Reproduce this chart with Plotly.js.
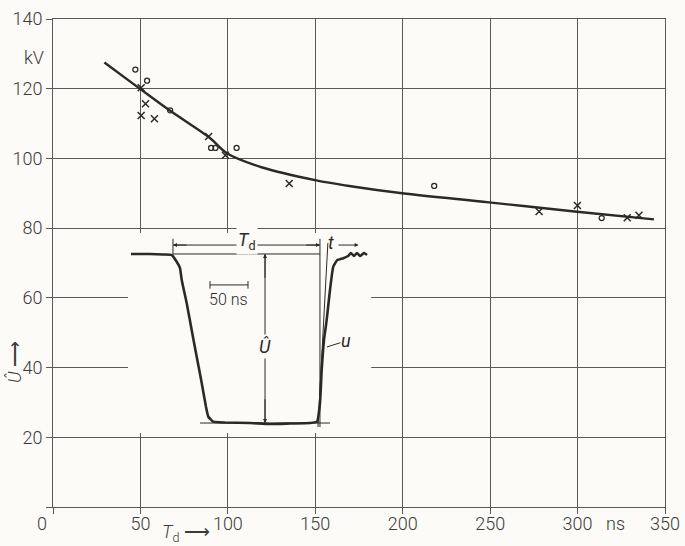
<!DOCTYPE html>
<html>
<head>
<meta charset="utf-8">
<script src="https://cdn.plot.ly/plotly-3.0.1.min.js"></script>
<style>html,body{margin:0;padding:0;background:#fcfbf7;}</style>
</head>
<body>
<div id="chart" style="width:685px;height:546px;"></div>
<script>
// Main chart: fitted curve of breakdown voltage Û vs. pulse duration T_d
var curveX = [29.4, 49.4, 66.6, 89.4, 99.7, 119.7, 150.6, 169.4, 199.7, 249.4, 299.7, 343.7];
var curveY = [127.5, 120.1, 113.8, 106.0, 101.4, 97.4, 93.7, 92.1, 90.0, 87.4, 84.7, 82.5];
// measured points, open circles
var circlesX = [47.1, 53.8, 67.0, 90.4, 92.9, 105.0, 218.0, 313.8];
var circlesY = [125.5, 122.3, 113.8, 103.0, 103.0, 103.0, 92.1, 82.9];
// measured points, crosses
var crossesX = [50.4, 52.9, 50.4, 58.0, 89.0, 98.6, 135.1, 278.0, 299.9, 328.4, 335.1];
var crossesY = [120.3, 115.7, 112.3, 111.4, 106.3, 100.9, 92.8, 84.8, 86.5, 83.0, 83.7];
// axis ticks
var xTickVals = [0, 50, 100, 150, 200, 250, 300, 350];
var xTickText = ['', '50', '100', '150', '200', '250', '300', '350'];
var yTickVals = [0, 20, 40, 60, 80, 100, 120, 140];
var yTickText = ['', '20', '40', '60', '80', '100', '120', '140'];
// Inset oscillogram: time in ns, voltage relative to Û
var waveT = [3.9, 28.9, 46.1, 57.5, 64.1, 68.4, 70.7, 77.2, 83.8, 90.4, 97.0, 102.6, 105.7, 112.2, 127.6, 160.5, 186.8, 213.2, 239.5, 248.7, 252.6, 254.9, 257.9, 261.4, 265.8, 270.1, 275.4, 283.3, 289.5, 293.4, 297.4, 301.3, 305.3, 310.5, 314.5];
var waveU = [1.000, 1.000, 0.997, 0.994, 0.954, 0.917, 0.846, 0.710, 0.550, 0.392, 0.237, 0.096, 0.037, 0.008, 0.003, 0.000, -0.006, -0.003, 0.000, 0.008, 0.117, 0.314, 0.491, 0.609, 0.787, 0.925, 0.964, 0.975, 0.988, 1.006, 0.988, 1.006, 0.988, 1.006, 0.994];
// inset construction lines (ns, relative u)
var tdStart = 59.2, tdEnd = 252.6;       // T_d markers
var tangentT = [250.0, 263.0], tangentU = [-0.024, 1.065];
var scaleBarT = [107.9, 157.9];          // 50 ns scale bar
var uHatT = 180.3;                       // Û dimension line

var ink = '#2a2a2a';
var grid = '#5a5a55';
var fnt = {family: 'Roboto, "Liberation Sans", sans-serif', size: 18, color: '#3a3a3a', weight: 300};

var traces = [
  {x: curveX, y: curveY, mode: 'lines', line: {color: ink, width: 2.4, shape: 'spline', smoothing: 1}, hoverinfo: 'skip'},
  {x: circlesX, y: circlesY, mode: 'markers', marker: {symbol: 'circle-open', size: 5, color: ink, line: {width: 1.3, color: ink}}},
  {x: crossesX, y: crossesY, mode: 'markers', marker: {symbol: 'x-thin-open', size: 7, color: ink, line: {width: 1.5, color: ink}}},
  {x: waveT, y: waveU, xaxis: 'x2', yaxis: 'y2', mode: 'lines', line: {color: ink, width: 2.6, shape: 'spline', smoothing: 0.4}},
  {x: tangentT, y: tangentU, xaxis: 'x2', yaxis: 'y2', mode: 'lines', line: {color: ink, width: 1}}
];

function px2px(px) { return (px - 53) / 612; }
function py2py(py) { return (507 - py) / 488; }

var shapes = [
  // white panel of inset
  {type: 'rect', xref: 'x2', yref: 'y2', x0: 3.9, x1: 314.5, y0: -0.05, y1: 1.124, fillcolor: '#fcfbf7', line: {width: 0}, layer: 'below'},
  // top reference line
  {type: 'line', xref: 'x2', yref: 'y2', x0: tdStart, x1: tdEnd, y0: 1.0, y1: 1.0, line: {color: ink, width: 1}},
  // bottom reference line
  {type: 'line', xref: 'x2', yref: 'y2', x0: 94.7, x1: 265.8, y0: 0, y1: 0, line: {color: ink, width: 1}},
  // T_d left marker
  {type: 'line', xref: 'x2', yref: 'y2', x0: tdStart, x1: tdStart, y0: 1.0, y1: 1.09, line: {color: ink, width: 1}},
  // T_d right marker (long)
  {type: 'line', xref: 'x2', yref: 'y2', x0: tdEnd, x1: tdEnd, y0: -0.024, y1: 1.09, line: {color: ink, width: 1}},
  // T_d dimension line
  {type: 'line', xref: 'x2', yref: 'y2', x0: tdStart, x1: tdEnd, y0: 1.053, y1: 1.053, line: {color: ink, width: 1}},
  // 50 ns scale bar
  {type: 'line', xref: 'x2', yref: 'y2', x0: scaleBarT[0], x1: scaleBarT[1], y0: 0.817, y1: 0.817, line: {color: ink, width: 1}},
  {type: 'line', xref: 'x2', yref: 'y2', x0: scaleBarT[0], x1: scaleBarT[0], y0: 0.795, y1: 0.84, line: {color: ink, width: 1}},
  {type: 'line', xref: 'x2', yref: 'y2', x0: scaleBarT[1], x1: scaleBarT[1], y0: 0.795, y1: 0.84, line: {color: ink, width: 1}},
  // Û dimension line
  {type: 'line', xref: 'x2', yref: 'y2', x0: uHatT, x1: uHatT, y0: 0, y1: 1.0, line: {color: ink, width: 1}},
  // leader for u
  {type: 'line', xref: 'x2', yref: 'y2', x0: 261.8, x1: 279.5, y0: 0.45, y1: 0.475, line: {color: ink, width: 1}}
];

function lbl(x, y, text, extra) {
  return Object.assign({xref: 'paper', yref: 'paper', x: px2px(x), y: py2py(y), xanchor: 'center', yanchor: 'middle', text: text, showarrow: false, font: fnt}, extra || {});
}

var annotations = [
  // T_d label in inset
  {xref: 'x2', yref: 'y2', x: (tdStart + tdEnd) / 2 + 0.5, y: 1.075, xanchor: 'center', yanchor: 'middle', text: '<i>T</i><sub>d</sub>', showarrow: false, bgcolor: '#fcfbf7', font: {family: fnt.family, size: 18, color: '#2a2a2a'}},
  // arrowheads of T_d dimension
  {xref: 'x2', yref: 'y2', axref: 'x2', ayref: 'y2', x: tdStart, y: 1.053, ax: tdStart + 20, ay: 1.053, text: '', showarrow: true, arrowhead: 2, arrowsize: 0.8, arrowwidth: 1, arrowcolor: ink},
  {xref: 'x2', yref: 'y2', axref: 'x2', ayref: 'y2', x: tdEnd, y: 1.053, ax: tdEnd - 20, ay: 1.053, text: '', showarrow: true, arrowhead: 2, arrowsize: 0.8, arrowwidth: 1, arrowcolor: ink},
  // t label and arrow
  {xref: 'x2', yref: 'y2', x: 267.5, y: 1.07, xanchor: 'center', yanchor: 'middle', text: '<i>t</i>', showarrow: false, font: {family: fnt.family, size: 18, color: '#2a2a2a'}},
  {xref: 'x2', yref: 'y2', axref: 'x2', ayref: 'y2', x: 303.5, y: 1.053, ax: 275, ay: 1.053, text: '', showarrow: true, arrowhead: 2, arrowsize: 0.8, arrowwidth: 1, arrowcolor: ink},
  // 50 ns label
  {xref: 'x2', yref: 'y2', x: (scaleBarT[0] + scaleBarT[1]) / 2, y: 0.73, xanchor: 'center', yanchor: 'middle', text: '50 ns', showarrow: false, font: {family: fnt.family, size: 16, color: '#2a2a2a', weight: 300}},
  // Û dimension arrows
  {xref: 'x2', yref: 'y2', axref: 'x2', ayref: 'y2', x: uHatT, y: 1.0, ax: uHatT, ay: 0.85, text: '', showarrow: true, arrowhead: 2, arrowsize: 0.8, arrowwidth: 1, arrowcolor: ink},
  {xref: 'x2', yref: 'y2', axref: 'x2', ayref: 'y2', x: uHatT, y: 0.0, ax: uHatT, ay: 0.15, text: '', showarrow: true, arrowhead: 2, arrowsize: 0.8, arrowwidth: 1, arrowcolor: ink},
  {xref: 'x2', yref: 'y2', x: uHatT, y: 0.45, xanchor: 'center', yanchor: 'middle', text: '<i>Û</i>', showarrow: false, bgcolor: '#fcfbf7', font: {family: fnt.family, size: 18, color: '#2a2a2a'}},
  // u label
  {xref: 'x2', yref: 'y2', x: 287, y: 0.49, xanchor: 'center', yanchor: 'middle', text: '<i>u</i>', showarrow: false, font: {family: fnt.family, size: 18, color: '#2a2a2a'}},
  // axis extras
  lbl(34, 57, 'kV'),
  lbl(42, 523, '0'),
  lbl(615, 523, 'ns'),
  lbl(186, 533, '<i>T</i><sub>d</sub> ⟶'),
  lbl(15, 362, '<i>Û</i> ⟶', {textangle: -90})
];

var axisCommon = {
  showgrid: true, gridcolor: grid, gridwidth: 1,
  showline: true, linecolor: grid, linewidth: 1, mirror: true,
  ticks: 'outside', ticklen: 6, tickcolor: grid, tickwidth: 1,
  zeroline: false, tickfont: fnt, tickmode: 'array', fixedrange: true
};

var layout = {
  width: 685, height: 546,
  margin: {l: 53, r: 20, t: 19, b: 39, pad: 0},
  paper_bgcolor: '#fcfbf7', plot_bgcolor: '#fcfbf7',
  showlegend: false,
  xaxis: Object.assign({}, axisCommon, {range: [0, 350], tickvals: xTickVals, ticktext: xTickText, ticklabelstandoff: -6}),
  yaxis: Object.assign({}, axisCommon, {range: [0, 140], tickvals: yTickVals, ticktext: yTickText}),
  xaxis2: {domain: [0.12255, 0.5199], range: [0, 320], anchor: 'y2', visible: false, fixedrange: true},
  yaxis2: {domain: [0.1516, 0.5615], range: [-0.0592, 1.1243], anchor: 'x2', visible: false, fixedrange: true},
  shapes: shapes,
  annotations: annotations
};

Plotly.newPlot('chart', traces, layout, {staticPlot: true, displayModeBar: false});
</script>
</body>
</html>
